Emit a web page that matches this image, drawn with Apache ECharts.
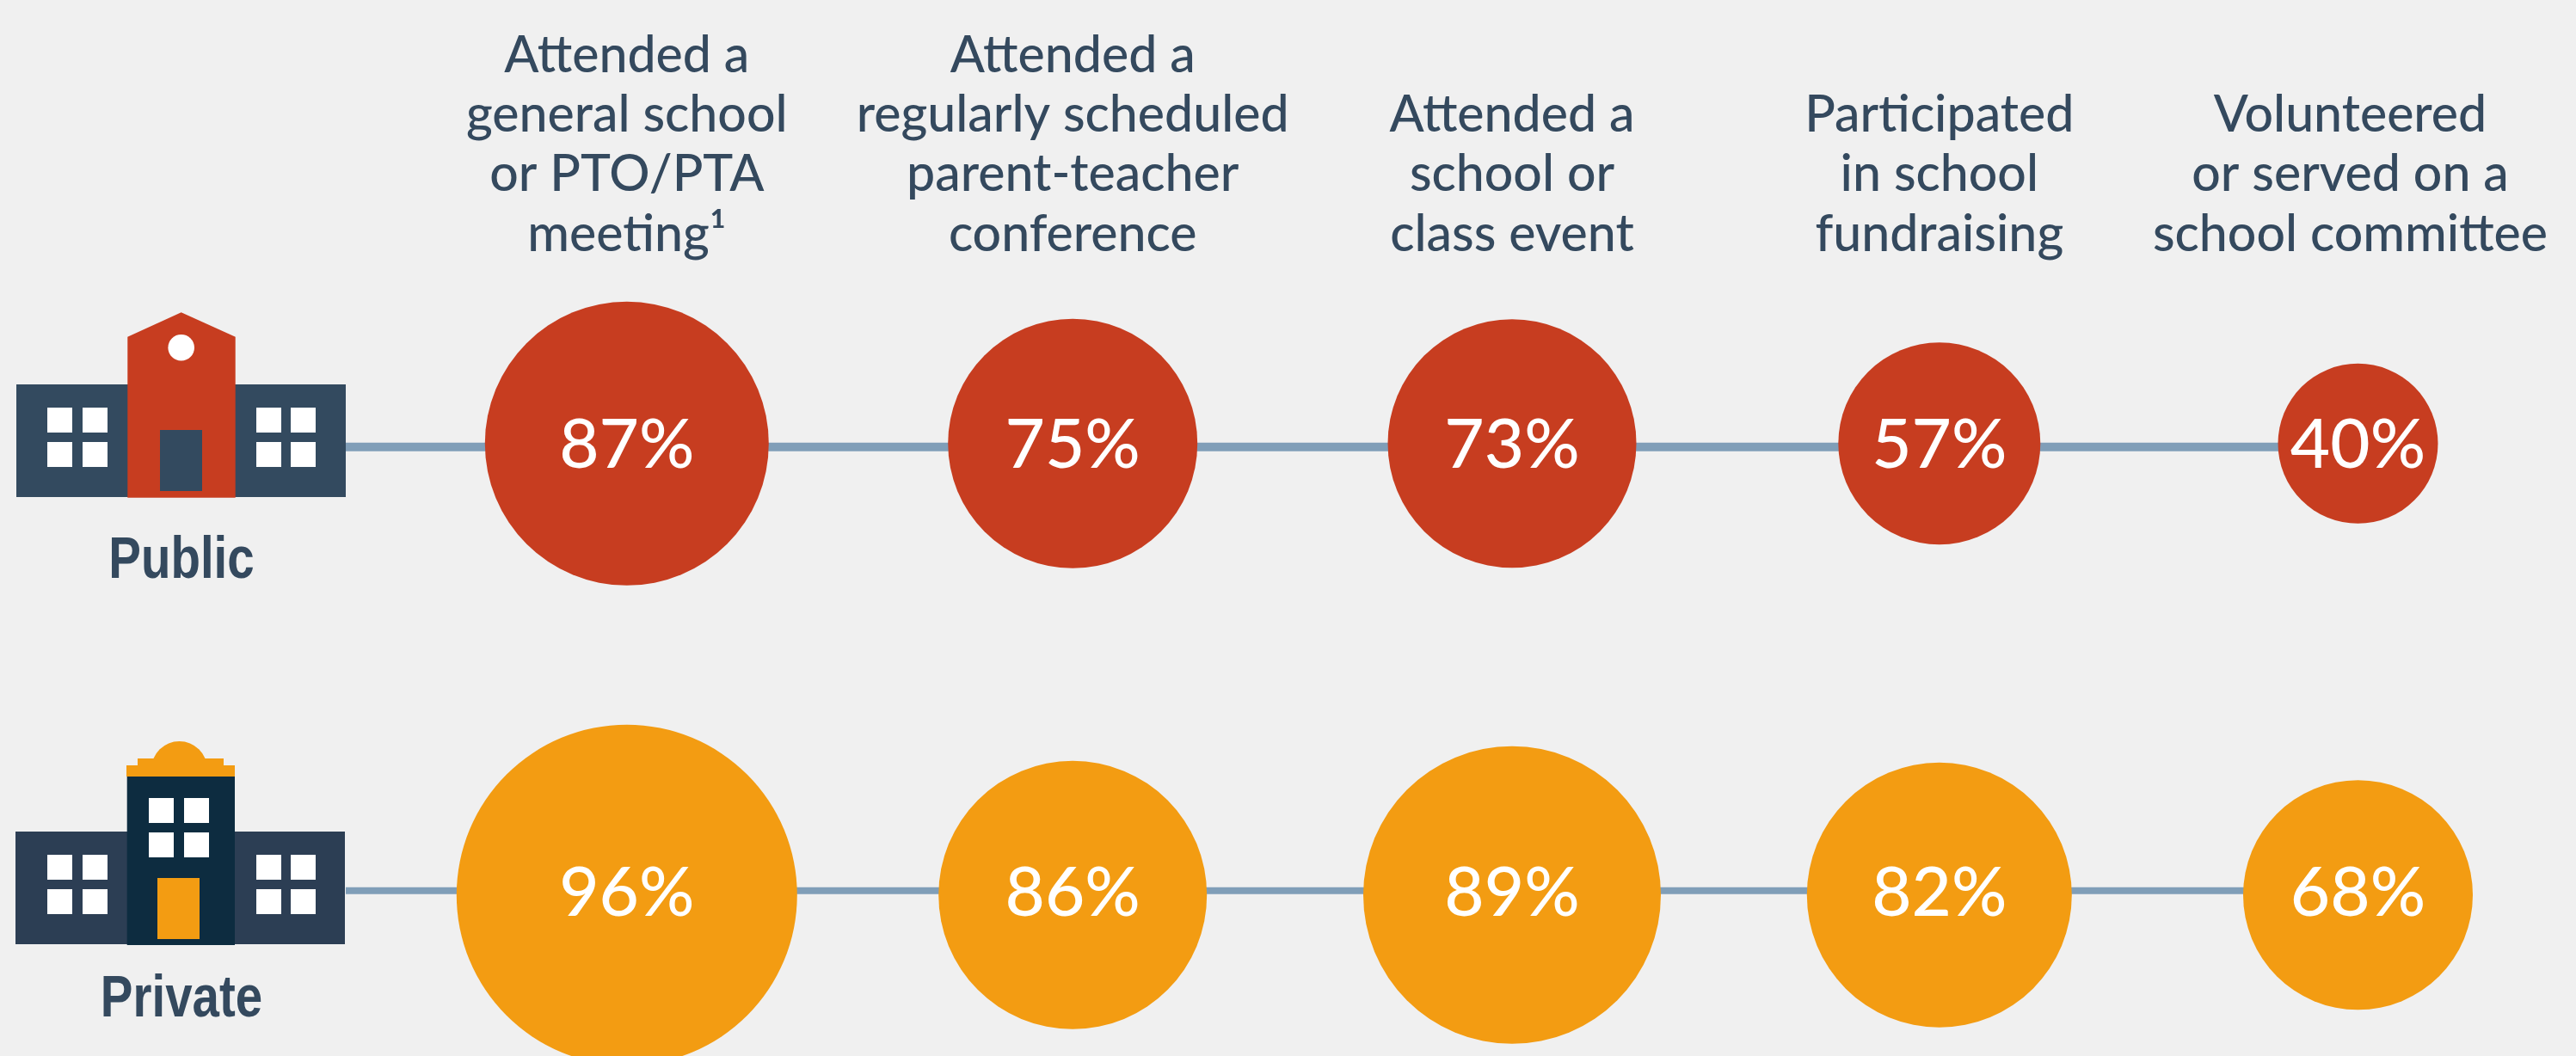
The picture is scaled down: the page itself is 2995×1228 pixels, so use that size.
<!DOCTYPE html>
<html>
<head>
<meta charset="utf-8">
<title>School involvement</title>
<script src="https://cdn.jsdelivr.net/npm/echarts@6/dist/echarts.min.js"></script>
<style>
  html, body { margin: 0; padding: 0; background: #f0f0f0; }
  #chartMount { width: 2995px; height: 1228px; }
</style>
</head>
<body>
<div id="chartMount"></div>
<script>
var categories = [
  'Attended a\ngeneral school\nor PTO/PTA\nmeeting¹',
  'Attended a\nregularly scheduled\nparent-teacher\nconference',
  'Attended a\nschool or\nclass event',
  'Participated\nin school\nfundraising',
  'Volunteered\nor served on a\nschool committee'
];
var rows = ['Public', 'Private'];
var publicValues = [87, 75, 73, 57, 40];
var privateValues = [96, 86, 89, 82, 68];

// bubble diameter for each value (not quite a clean area scale)
var bubbleSize = { 40: 186, 57: 235, 68: 267, 73: 289, 75: 290, 82: 308, 86: 312, 87: 330, 89: 346, 96: 396 };

var TEXT = '#34495e', RED = '#c73d20', ORANGE = '#f39c12', LINK = '#809eb8';
var rowColors = [RED, ORANGE];
var rowValues = [publicValues, privateValues];
var columnCenter = [728.8, 1247.2, 1758, 2254.8, 2741.5]; // one small grid per column, spacing is uneven
var rowTop = 253.3, rowBand = 525;
var labelNudge = [2, -2];
var linkNudge = [4, -5];
var linkWidth = [10, 8];

var app = echarts.init(document.getElementById('chartMount'));
var grids = [], xAxes = [], yAxes = [], series = [];

categories.forEach(function (cat, c) {
  // the second row band hangs past the bottom edge, so no shrinking to fit
  grids.push({ left: columnCenter[c] - 250, width: 500, top: rowTop, height: rowBand * 2, outerBoundsMode: 'none' });
  xAxes.push({
    gridIndex: c, type: 'category', position: 'top', data: [cat],
    axisLine: { show: false }, axisTick: { show: false },
    axisLabel: {
      interval: 0, margin: -54, color: TEXT, fontFamily: 'Lato', fontWeight: 500, fontSize: 59, lineHeight: 69.3,
      align: 'center', padding: c === 4 ? [0, 18, 0, 0] : 0
    }
  });
  yAxes.push({
    gridIndex: c, type: 'category', inverse: true, data: rows,
    axisLine: { show: false }, axisTick: { show: false }, axisLabel: { show: false }
  });
  series.push({
    type: 'scatter', xAxisIndex: c, yAxisIndex: c, clip: false,
    encode: { x: 0, y: 1 },
    symbol: 'circle',
    symbolSize: function (v) { return bubbleSize[v[2]]; },
    label: {
      show: true, position: 'inside', color: '#fff', fontFamily: 'Lato', fontWeight: 500, fontSize: 80,
      formatter: function (p) { return p.value[2] + '%'; }
    },
    data: rows.map(function (r, i) {
      return {
        value: [cat, r, rowValues[i][c]],
        itemStyle: { color: rowColors[i], opacity: 1 },
        label: { offset: [0, labelNudge[i]] }
      };
    })
  });
});

app.setOption({
  backgroundColor: '#f0f0f0',
  animation: false,
  grid: grids,
  xAxis: xAxes,
  yAxis: yAxes,
  series: series
});

// small helpers for the school icons
function box(x, y, w, h, fill) {
  return { type: 'rect', shape: { x: x, y: y, width: w, height: h }, style: { fill: fill }, z: 5 };
}
function windows(x1, x2, y1, y2) {
  return [box(x1, y1, 29, 29, '#fff'), box(x2, y1, 29, 29, '#fff'), box(x1, y2, 29, 29, '#fff'), box(x2, y2, 29, 29, '#fff')];
}

var publicIcon = [
  box(19, 447, 383, 131, '#334a5f'),
  { type: 'polygon', z: 5, shape: { points: [[148.3, 578.7], [148.3, 391.7], [210.7, 363.3], [273.7, 391.7], [273.7, 578.7]] }, style: { fill: RED } },
  { type: 'circle', z: 5, shape: { cx: 210.7, cy: 404.3, r: 15.3 }, style: { fill: '#fff' } },
  box(186, 500, 49, 71, '#334a5f')
].concat(windows(55, 96, 474, 514), windows(298, 338, 474, 514));

var privateIcon = [
  box(18, 967, 383, 131, '#2c3e54'),
  { type: 'circle', z: 5, shape: { cx: 208.5, cy: 894.5, r: 32.5 }, style: { fill: ORANGE } },
  box(147.7, 903, 125.3, 196, '#0d2c40'),
  box(160, 882, 100, 10, ORANGE),
  box(147, 890, 126, 13, ORANGE),
  box(183, 1021, 49, 71, ORANGE)
].concat(windows(173, 214, 928, 968), windows(55, 96, 994, 1034), windows(298, 338, 994, 1034));

// no narrow face installed, so the row names are squeezed bold Liberation Sans
function rowName(i, x, y) {
  return {
    type: 'text', z: 6, x: x, y: y, scaleX: 0.83,
    style: { text: rows[i], fill: TEXT, font: 'bold 68px "Liberation Sans"', align: 'center', verticalAlign: 'middle' }
  };
}

// connector runs from the icon to the last bubble of its row, placed through the last column's axes
var last = categories.length - 1;
var links = rows.map(function (r, i) {
  var end = app.convertToPixel({ xAxisIndex: last, yAxisIndex: last }, [categories[last], r]);
  var y = end[1] + linkNudge[i];
  return { type: 'line', z: 0, shape: { x1: 402, y1: y, x2: end[0], y2: y }, style: { stroke: LINK, lineWidth: linkWidth[i] } };
});

app.setOption({
  graphic: { elements: links.concat(publicIcon, privateIcon, [rowName(0, 211, 653), rowName(1, 211, 1163)]) }
});
</script>
</body>
</html>
